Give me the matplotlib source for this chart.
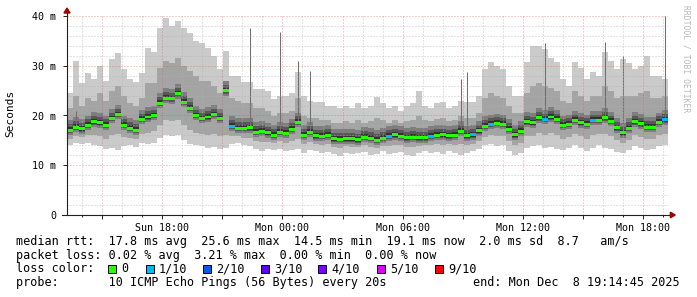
import numpy as np
import matplotlib
matplotlib.use('Agg')
import matplotlib.pyplot as plt
from matplotlib.patches import Polygon, Rectangle

# one value per 18 minute column, from Sun 13:14:45 to Mon 19:14:45 (ms)
median = [17.0, 17.6, 17.3, 18.0, 18.7, 18.5, 18.0, 19.4, 20.2, 18.0,
          17.4, 17.0, 19.2, 19.7, 20.0, 22.5, 23.5, 23.4, 24.4, 22.7,
          21.5, 20.0, 19.4, 19.7, 20.2, 19.4, 25.0, 17.8, 17.4, 17.4,
          17.5, 16.6, 16.8, 16.5, 16.0, 16.6, 16.4, 17.2, 18.6, 16.0,
          16.6, 15.9, 15.8, 16.0, 15.3, 15.2, 15.3, 15.3, 15.1, 15.6,
          15.4, 15.0, 15.4, 15.8, 16.1, 15.8, 15.5, 15.6, 15.5, 15.5,
          15.8, 16.0, 16.1, 15.9, 16.0, 16.8, 15.9, 16.1, 16.9, 17.8,
          18.2, 18.4, 18.2, 17.2, 16.1, 16.8, 18.7, 18.5, 19.5, 19.2,
          19.7, 19.2, 18.0, 18.2, 19.0, 18.5, 18.2, 19.0, 19.0, 19.5,
          18.8, 17.5, 16.5, 17.4, 18.7, 18.3, 17.6, 17.6, 18.6, 19.1]

smoke_top = [24.5, 31.0, 26.5, 28.5, 27.4, 30.0, 27.0, 31.4, 32.5, 29.4,
             27.4, 26.7, 28.5, 33.5, 32.8, 37.5, 39.5, 38.0, 39.0, 37.5,
             36.5, 35.0, 34.5, 33.5, 32.0, 29.4, 33.0, 28.0, 28.0, 26.7,
             26.7, 25.4, 25.4, 25.0, 23.4, 24.0, 24.0, 24.5, 28.7, 24.0,
             23.0, 22.7, 22.7, 22.0, 22.0, 21.5, 22.0, 21.5, 22.5, 21.5,
             22.0, 23.7, 22.5, 21.5, 22.0, 21.0, 22.0, 22.5, 25.0, 22.0,
             21.5, 22.5, 22.7, 21.5, 22.0, 23.0, 22.7, 22.7, 24.0, 29.4,
             30.8, 30.0, 29.4, 26.0, 24.0, 24.0, 30.8, 34.0, 34.0, 33.4,
             31.5, 30.8, 27.4, 26.0, 30.8, 29.5, 27.4, 28.7, 28.0, 32.8,
             31.0, 29.4, 31.4, 30.5, 29.4, 30.0, 32.0, 28.0, 28.0, 27.4]

smoke_up = [21.5, 24.0, 22.0, 23.5, 23.0, 24.5, 23.0, 25.0, 26.0, 24.0,
            22.5, 22.0, 23.5, 26.5, 26.5, 29.5, 31.0, 30.5, 31.5, 30.0,
            29.0, 28.0, 27.0, 27.0, 26.0, 24.5, 27.0, 23.5, 23.0, 22.5,
            22.5, 21.5, 21.5, 21.0, 20.0, 20.5, 20.5, 21.0, 23.5, 20.0,
            19.5, 19.5, 19.0, 19.0, 18.5, 18.5, 18.8, 18.5, 19.0, 18.5,
            18.8, 19.5, 19.0, 18.5, 19.0, 18.5, 18.8, 19.0, 20.0, 19.0,
            18.8, 19.2, 19.5, 18.8, 19.0, 20.0, 19.5, 19.5, 20.5, 23.5,
            24.5, 24.0, 23.5, 22.0, 20.5, 20.5, 24.5, 26.0, 26.5, 26.0,
            25.5, 25.0, 23.0, 22.5, 25.0, 24.0, 23.0, 24.0, 24.0, 26.0,
            25.0, 23.5, 24.0, 24.0, 24.0, 24.5, 25.0, 23.5, 23.5, 24.0]

smoke_dn = [15.3, 15.8, 15.6, 16.0, 16.0, 15.8, 15.3, 16.0, 16.2, 15.6,
            15.5, 15.2, 16.2, 16.5, 16.8, 18.0, 19.0, 18.8, 19.0, 18.0,
            17.0, 16.5, 16.2, 16.0, 16.3, 15.8, 16.0, 15.8, 15.8, 15.5,
            15.4, 14.8, 14.6, 14.7, 14.4, 14.8, 14.5, 14.8, 15.2, 14.2,
            14.6, 14.2, 14.0, 14.2, 13.7, 13.4, 13.8, 13.6, 13.7, 14.0,
            13.6, 13.5, 13.9, 13.8, 14.0, 14.0, 13.6, 13.6, 13.8, 14.0,
            14.0, 14.2, 14.0, 14.2, 14.1, 14.2, 14.0, 14.3, 14.8, 15.6,
            16.0, 15.8, 15.9, 14.8, 14.0, 14.5, 15.8, 15.9, 16.5, 16.0,
            16.5, 16.0, 15.3, 15.6, 16.2, 15.8, 15.2, 16.0, 16.3, 16.2,
            15.8, 15.0, 14.5, 15.0, 16.0, 15.6, 15.2, 15.3, 16.0, 16.3]

smoke_bot = [14.0, 14.5, 14.2, 14.5, 14.0, 13.8, 13.3, 13.5, 13.0, 13.8,
             14.0, 13.7, 14.5, 14.3, 14.5, 15.5, 16.0, 15.8, 16.0, 15.0,
             14.2, 14.0, 13.8, 13.5, 13.7, 13.2, 13.5, 14.2, 14.5, 14.0,
             13.8, 13.3, 12.8, 13.2, 13.0, 13.3, 12.8, 13.0, 13.2, 12.5,
             13.0, 12.8, 12.5, 12.7, 12.3, 11.8, 12.5, 12.2, 12.5, 12.7,
             12.0, 12.3, 12.8, 12.2, 12.5, 12.7, 12.0, 11.8, 12.5, 12.8,
             12.5, 12.7, 12.3, 12.8, 12.5, 12.0, 12.5, 12.8, 13.2, 14.0,
             14.2, 13.8, 14.0, 12.8, 12.0, 12.5, 13.5, 13.8, 14.0, 13.5,
             13.7, 13.3, 13.0, 13.5, 14.0, 13.5, 12.8, 13.5, 14.0, 13.5,
             13.2, 12.7, 12.5, 13.0, 13.8, 13.5, 13.0, 13.2, 13.8, 14.0]

# lost pings per column (out of 10)
loss = [0, 0, 0, 0, 0, 0, 0, 0, 0, 0,
        0, 0, 0, 0, 0, 0, 0, 0, 0, 0,
        0, 0, 0, 0, 0, 0, 0, 1, 0, 0,
        0, 0, 0, 0, 0, 0, 0, 0, 0, 0,
        0, 0, 0, 0, 0, 0, 0, 0, 0, 0,
        0, 0, 0, 1, 0, 0, 0, 0, 0, 0,
        1, 0, 0, 0, 0, 0, 0, 1, 0, 0,
        1, 0, 0, 0, 0, 0, 0, 0, 0, 1,
        0, 0, 0, 0, 0, 0, 0, 1, 0, 0,
        0, 0, 0, 0, 0, 0, 0, 0, 0, 1]

# single slow pings sticking out of the smoke
spike_cols = [1, 26, 30, 35, 38, 40, 65, 66, 79, 89, 92, 99]
spike_top = [21.0, 26.0, 37.5, 36.8, 31.0, 29.0, 27.4, 28.7, 34.6, 34.7, 32.0, 40.0]

loss_labels = ['0', '1/10', '2/10', '3/10', '4/10', '5/10', '9/10']
loss_colors = ['#26ff00', '#00b8ff', '#0059ff', '#5e00ff', '#7e00ff', '#dd00ff', '#ff0000']

start_h = 13 + 14 / 60 + 45 / 3600   # Sun 13:14:45
span_h = 30
col_h = 0.3

W, H = 697, 297
mono = 'DejaVu Sans Mono'

median = np.array(median)
t_edges = np.arange(len(median) + 1) * col_h
t_mid = t_edges[:-1] + col_h / 2


def stepped(a):
    a = np.asarray(a, dtype=float)
    return np.append(a, a[-1])


fig = plt.figure(figsize=(W / 100, H / 100), dpi=100)
fig.patch.set_facecolor('white')
ax = fig.add_axes([67 / W, 82 / H, 601 / W, 199 / H])

# smoke
ax.fill_between(t_edges, stepped(smoke_bot), stepped(smoke_top), step='post',
                color='#cacaca', lw=0, zorder=1)
ax.fill_between(t_edges, stepped(smoke_dn), stepped(smoke_up), step='post',
                color='#a4a4a4', lw=0, zorder=1)
# darker core around the median (fixed thickness, drawing style only)
for lo, hi, c in [(1.0, 2.0, '#7e7e7e'), (0.6, 1.2, '#585858'), (0.35, 0.6, '#323232')]:
    ax.fill_between(t_edges, stepped(median - lo), stepped(median + hi), step='post',
                    color=c, lw=0, zorder=1)
ax.vlines(t_mid[spike_cols], median[spike_cols], spike_top, color='#6e6e6e',
          lw=0.75, zorder=1)

# median coloured by loss
ax.bar(t_mid, 0.6, bottom=median - 0.3, width=col_h,
       color=[loss_colors[n] for n in loss], lw=0, zorder=4)

ax.set_xlim(0, span_h)
ax.set_ylim(0, 40)

# time axis
hours = np.arange(int(np.ceil(start_h)), int(start_h + span_h) + 1)
hour_pos = hours - start_h
major = hours % 3 == 0
ax.set_xticks(hour_pos[major])
labels = []
for h in hours[major]:
    if h % 6 == 0:
        day = 'Sun' if h < 24 else 'Mon'
        labels.append('%s %02d:00' % (day, h % 24))
    else:
        labels.append('')
ax.set_xticklabels(labels)
ax.set_xticks(hour_pos[~major], minor=True)

ax.set_yticks([0, 10, 20, 30, 40])
ax.set_yticklabels(['0', '10 m', '20 m', '30 m', '40 m'])
ax.set_yticks(np.arange(2, 40, 2), minor=True)

for lab in ax.get_xticklabels() + ax.get_yticklabels():
    lab.set_family(mono)
    lab.set_fontsize(7.2)
ax.tick_params(axis='both', which='major', length=3, width=0.7, color='#202020', pad=3)
ax.tick_params(axis='x', which='minor', length=1.5, width=0.7, color='#202020')
ax.tick_params(axis='y', which='minor', length=0)
ax.tick_params(axis='y', which='major', pad=5)

ax.set_axisbelow(False)
ax.grid(which='minor', color='#b0b0b0', alpha=0.7, lw=0.72, linestyle=(0, (1, 2)))
ax.grid(which='major', color='#de5050', alpha=0.55, lw=0.72, linestyle=(0, (1, 2)))

for s in ax.spines.values():
    s.set_visible(False)

# axes with arrows
ax.plot([0, 0], [0, 1.035], transform=ax.transAxes, color='#202020', lw=0.8,
        clip_on=False, zorder=6)
ax.plot([-0.0083, 1.006], [0, 0], transform=ax.transAxes, color='#202020', lw=0.8,
        clip_on=False, zorder=6)
ax.add_patch(Polygon([[-0.005, 1.015], [0.005, 1.015], [0, 1.04]], closed=True,
                     transform=ax.transAxes, color='#a00000', clip_on=False, zorder=7))
ax.add_patch(Polygon([[1.004, -0.014], [1.004, 0.014], [1.012, 0]], closed=True,
                     transform=ax.transAxes, color='#a00000', clip_on=False, zorder=7))

fig.text(10.5 / W, 1 - 113 / H, 'Seconds', rotation=90, ha='center', va='center',
         family=mono, fontsize=8)
fig.text(686 / W, 1 - 5 / H, 'RRDTOOL / TOBI OETIKER', rotation=270, ha='center',
         va='top', family=mono, fontsize=5.8, color='#b8b8b8')

# legend / statistics
rows = [
    'median rtt:  17.8 ms avg  25.6 ms max  14.5 ms min  19.1 ms now  2.0 ms sd  8.7   am/s',
    'packet loss: 0.02 % avg  3.21 % max  0.00 % min  0.00 % now',
    'loss color:',
    'probe:       10 ICMP Echo Pings (56 Bytes) every 20s',
]
row_y = [241, 255, 268.5, 282.5]
for txt, y in zip(rows, row_y):
    fig.text(16 / W, 1 - y / H, txt, ha='left', va='center', family=mono, fontsize=8.5)
fig.text(680 / W, 1 - 282.5 / H, 'end: Mon Dec  8 19:14:45 2025', ha='right',
         va='center', family=mono, fontsize=8.5)

box_x = [108, 146, 203, 261, 318, 377, 435]
for bx, lab, c in zip(box_x, loss_labels, loss_colors):
    fig.patches.append(Rectangle((bx / W, 1 - 272.5 / H), 8 / W, 8 / H,
                                 transform=fig.transFigure, facecolor=c,
                                 edgecolor='black', lw=0.7))
    fig.text((bx + 13) / W, 1 - 268.5 / H, lab, ha='left', va='center',
             family=mono, fontsize=8.5)

fig.savefig('out.png', dpi=100)
